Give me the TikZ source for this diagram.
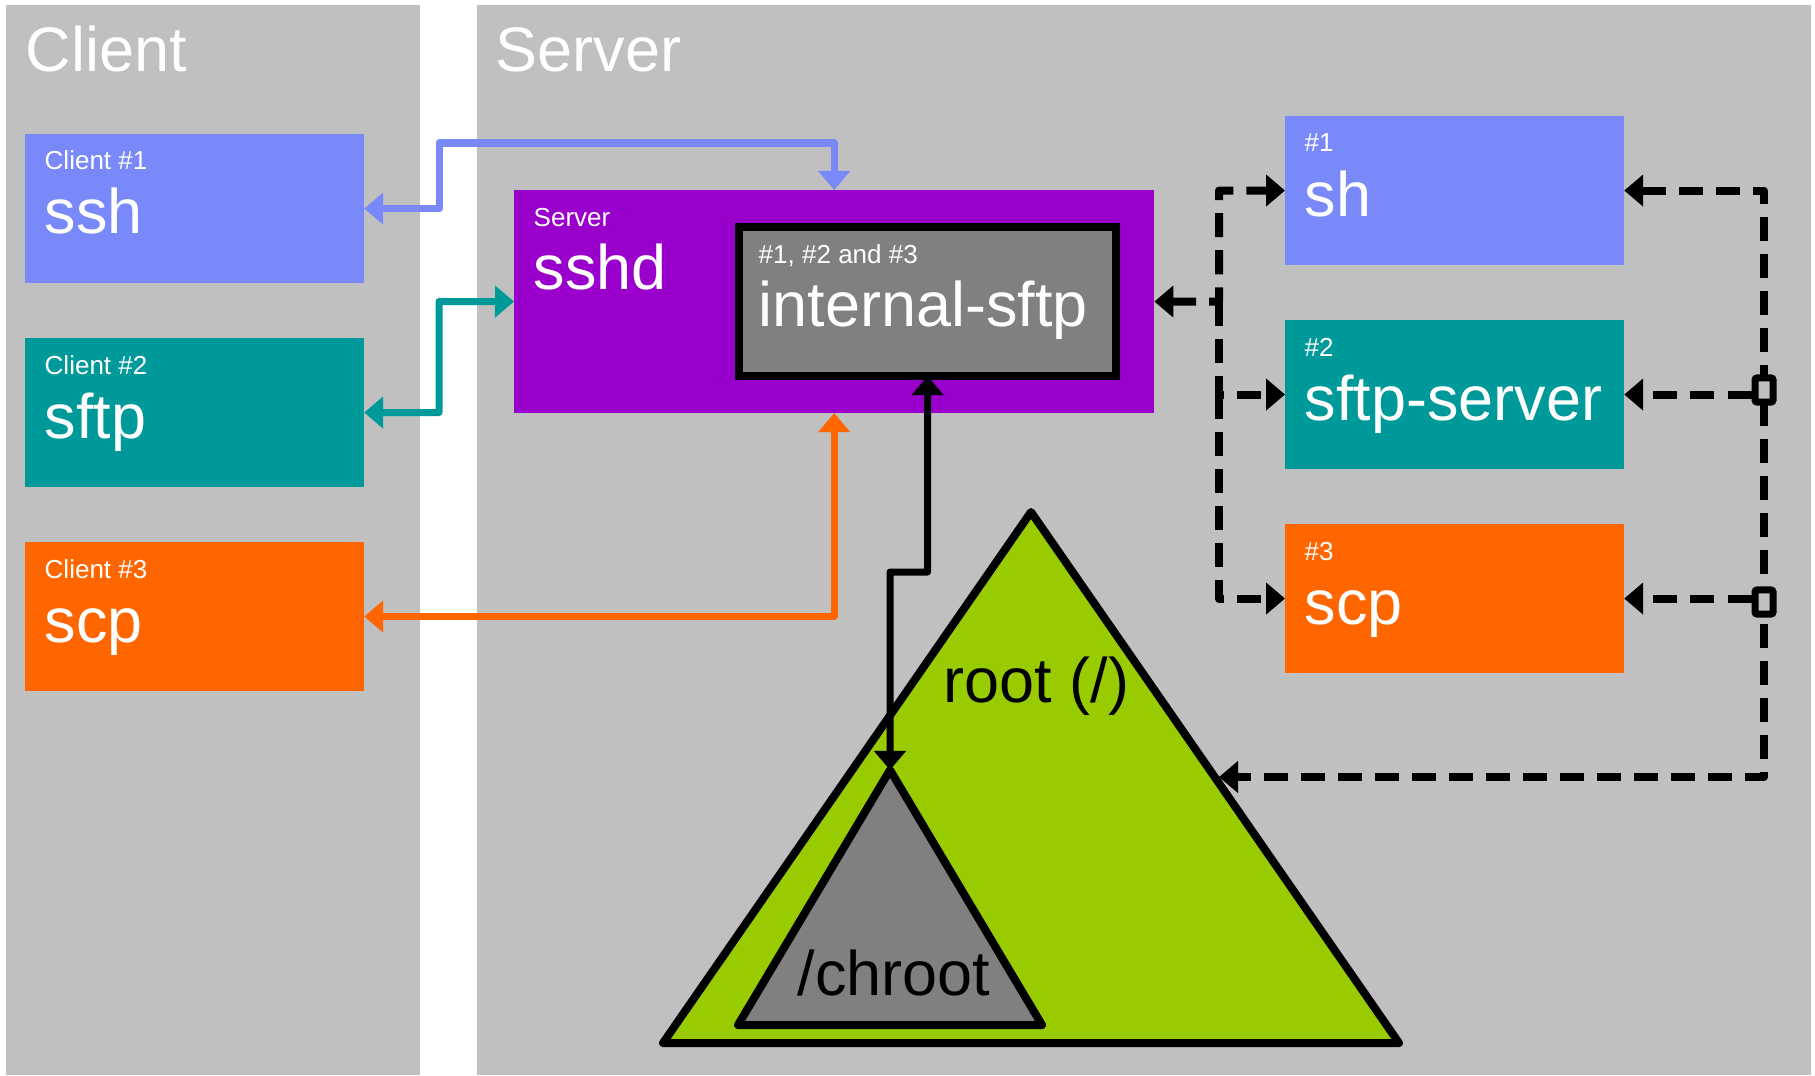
\documentclass[tikz,border=0pt]{standalone}
\usepackage{fontspec}
\setmainfont{Liberation Sans}
\usetikzlibrary{arrows.meta}
\definecolor{panelgray}{HTML}{C0C0C0}
\definecolor{cblue}{HTML}{7989FA}
\definecolor{cteal}{HTML}{009999}
\definecolor{corange}{HTML}{FF6600}
\definecolor{cpurple}{HTML}{9900CC}
\definecolor{cgreen}{HTML}{99CC00}
\definecolor{cgray}{HTML}{808080}
\newcommand\BigTxt{\fontsize{17.9pt}{21pt}\selectfont}
\newcommand\SmallTxt{\fontsize{7.4pt}{9pt}\selectfont}
\begin{document}
\begin{tikzpicture}[x=0.01cm, y=-0.01cm,
  >={Triangle[length=0.19cm,width=0.31cm]},
  panel/.style={fill=panelgray, inner sep=0, outer sep=0, anchor=north west, minimum height=10.69cm},
  pbox/.style={inner sep=0, outer sep=0, anchor=north west, minimum width=3.39cm, minimum height=1.49cm},
  bigtxt/.style={inner sep=0, anchor=base west, text=white, font=\BigTxt},
  smalltxt/.style={inner sep=0, anchor=base west, text=white, font=\SmallTxt},
  blacktxt/.style={inner sep=0, anchor=base west, text=black, font=\BigTxt},
  conn/.style={line width=0.07cm, line join=round},
  dconn/.style={line width=0.08cm, line join=round, dash pattern=on 0.24cm off 0.13cm, draw=black},
  tri/.style={draw=black, line width=0.08cm, line join=round},
  junc/.style={draw=black, fill=panelgray, line width=0.07cm, minimum width=0.18cm, minimum height=0.24cm, inner sep=0, rounded corners=0.02cm}
]
\useasboundingbox[fill=white] (0,0) rectangle (1815,1076);

% panels
\node[panel, minimum width=4.14cm] (clientp) at (6,5) {};
\node[panel, minimum width=13.33cm] (serverp) at (477,5) {};
\node[bigtxt] (clientt) at (25,72) {Client};
\node[bigtxt] (servert) at (495,72) {Server};

% client boxes
\node[pbox, fill=cblue] (c1) at (25,134) {};
\node[pbox, fill=cteal] (c2) at (25,338) {};
\node[pbox, fill=corange] (c3) at (25,542) {};
\node[smalltxt] (c1s) at ([shift={(19,36)}]c1.north west) {Client \#1};
\node[bigtxt] (c1b) at ([shift={(19,100)}]c1.north west) {ssh};
\node[smalltxt] (c2s) at ([shift={(19,36)}]c2.north west) {Client \#2};
\node[bigtxt] (c2b) at ([shift={(19,100)}]c2.north west) {sftp};
\node[smalltxt] (c3s) at ([shift={(19,36)}]c3.north west) {Client \#3};
\node[bigtxt] (c3b) at ([shift={(19,100)}]c3.north west) {scp};

% server process boxes
\node[pbox, fill=cblue] (sh) at (1285,116) {};
\node[pbox, fill=cteal] (sftp) at (1285,320) {};
\node[pbox, fill=corange] (scp) at (1285,524) {};
\node[smalltxt] (shs) at ([shift={(19,36)}]sh.north west) {\#1};
\node[bigtxt] (shb) at ([shift={(19,100)}]sh.north west) {sh};
\node[smalltxt] (sftps) at ([shift={(19,36)}]sftp.north west) {\#2};
\node[bigtxt] (sftpb) at ([shift={(19,100)}]sftp.north west) {sftp-server};
\node[smalltxt] (scps) at ([shift={(19,36)}]scp.north west) {\#3};
\node[bigtxt] (scpb) at ([shift={(19,100)}]scp.north west) {scp};

% sshd
\node[pbox, fill=cpurple, minimum width=6.40cm, minimum height=2.23cm] (sshd) at (514,190) {};
\node[smalltxt] (sshds) at ([shift={(19,36)}]sshd.north west) {Server};
\node[bigtxt] (sshdb) at ([shift={(19,100)}]sshd.north west) {sshd};
\node[pbox, fill=cgray, draw=black, line width=0.075cm, minimum width=3.77cm, minimum height=1.49cm] (int) at (739,227) {};
\node[smalltxt] (ints) at ([shift={(19,36)}]int.north west) {\#1, \#2 and \#3};
\node[bigtxt] (intb) at ([shift={(19,100)}]int.north west) {internal-sftp};

% triangles
\coordinate (ra) at (1031,512);
\coordinate (rl) at (663,1043);
\coordinate (rr) at (1399,1043);
\draw[tri, fill=cgreen] (ra) -- (rl) -- (rr) -- cycle;
\node[blacktxt] (rootl) at (943,702) {root (/)};
\coordinate (ca) at (890,770);
\coordinate (cl) at (738,1025);
\coordinate (cr) at (1042,1025);
\draw[tri, fill=cgray] (ca) -- (cl) -- (cr) -- cycle;
\node[blacktxt] (chrootl) at (797,995) {/chroot};

% coloured connectors
\coordinate (btop) at (439,143);
\coordinate (tup) at (439,301.5);
\draw[conn, cblue, <->] (c1.east) -| (btop) -| (sshd.north);
\draw[conn, cteal, <->] (c2.east) -| (tup) -- (sshd.west);
\draw[conn, corange, <->] (c3.east) -| (sshd.south);

% internal-sftp to chroot
\coordinate (kb) at (927.5,572);
\draw[conn, black, <->] (int.south) -- (kb) -| (ca);

% left dashed bus
\coordinate (lb) at (1219,301.5);
\draw[dconn, <->] (sshd.east) -- (lb) |- (sh.west);
\draw[dconn, ->] (lb) |- (sftp.west);
\draw[dconn, ->] (lb |- sftp.west) |- (scp.west);

% right dashed bus
\coordinate (rt) at (1219,777);
\coordinate (rb) at (1764,777);
\draw[dconn, <->] (sh.east) -| (rb) -- (rt);
\node[junc] (sq1) at (1764,390) {};
\node[junc] (sq2) at (1764,602) {};
\draw[dconn, ->] (sq1.west |- sftp.east) -- (sftp.east);
\draw[dconn, ->] (sq2.west |- scp.east) -- (scp.east);
\end{tikzpicture}
\end{document}
